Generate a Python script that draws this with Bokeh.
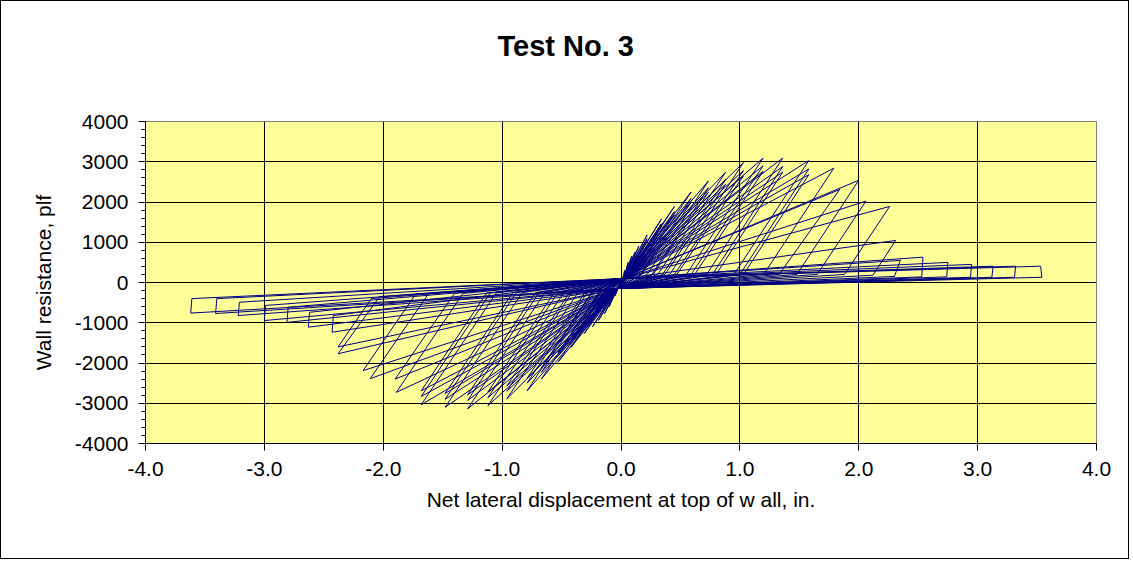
from bokeh.plotting import figure
from bokeh.models import FixedTicker, NumeralTickFormatter, LinearAxis
from bokeh.embed import file_html
from bokeh.resources import INLINE

# ---------------- axis ticks ----------------
x_ticks = [-4.0, -3.0, -2.0, -1.0, 0.0, 1.0, 2.0, 3.0, 4.0]
y_ticks = [-4000, -3000, -2000, -1000, 0, 1000, 2000, 3000, 4000]
y_minor_ticks = [-4000, -3800, -3600, -3400, -3200, -3000, -2800, -2600, -2400, -2200,
                 -2000, -1800, -1600, -1400, -1200, -1000, -800, -600, -400, -200,
                 0, 200, 400, 600, 800, 1000, 1200, 1400, 1600, 1800, 2000, 2200,
                 2400, 2600, 2800, 3000, 3200, 3400, 3600, 3800, 4000]

# ---------------- data ----------------
# pinched "throat" of the loops near the origin (positive side, negative side)
throat_disp = [0.03, -0.03]
throat_load = [100, -150]

# positive excursion of each cycle: peak, then the point where unloading reaches the pinched baseline
pos_peak_disp = [0.03, 0.06, 0.09, 0.12, 0.15,
                 0.22, 0.22, 0.22, 0.34, 0.34, 0.34, 0.45, 0.45, 0.45, 0.59, 0.59, 0.59,
                 0.735, 0.735, 0.735, 0.88, 0.88, 0.88, 1.03, 1.03, 1.03,
                 1.195, 1.195, 1.195, 1.36, 1.36, 1.36, 1.58, 1.58, 1.58,
                 1.79, 1.84, 2.00, 2.06, 2.26, 2.31, 2.35,
                 2.54, 2.75, 2.95, 3.13, 3.32, 3.53]
pos_peak_load = [300, 500, 650, 760, 900,
                 1180, 1090, 1030, 1575, 1460, 1390, 1890, 1760, 1680, 2250, 2090, 1990,
                 2520, 2350, 2240, 2740, 2560, 2440, 2980, 2780, 2650,
                 3090, 2900, 2760, 3090, 2880, 2740, 3030, 2820, 2680,
                 2840, 2310, 2540, 2020, 1890, 1045, 550,
                 630, 500, 450, 405, 405, 405]
pos_ret_disp = [0.01, 0.02, 0.02, 0.02, 0.03,
                0.03, 0.04, 0.05, 0.04, 0.06, 0.07, 0.07, 0.09, 0.10, 0.13, 0.16, 0.17,
                0.22, 0.26, 0.27, 0.31, 0.35, 0.37, 0.41, 0.45, 0.47,
                0.55, 0.59, 0.62, 0.72, 0.77, 0.80, 0.95, 1.00, 1.03,
                1.20, 1.33, 1.48, 1.65, 1.88, 2.12, 2.30,
                2.53, 2.74, 2.94, 3.12, 3.31, 3.54]
pos_ret_load = [60, 80, 100, 120, 130,
                150, 150, 150, 170, 170, 170, 180, 180, 180, 190, 190, 190,
                200, 200, 200, 200, 200, 200, 200, 200, 200,
                200, 200, 200, 200, 200, 200, 200, 200, 200,
                200, 200, 200, 200, 200, 180, 150,
                140, 140, 130, 130, 130, 130]

# negative excursion of each cycle
neg_peak_disp = [-0.05, -0.10, -0.14, -0.19, -0.24,
                 -0.31, -0.31, -0.31, -0.42, -0.42, -0.42, -0.53, -0.53, -0.53,
                 -0.67, -0.67, -0.67, -0.79, -0.79, -0.79, -0.96, -0.96, -0.96,
                 -1.12, -1.12, -1.12, -1.29, -1.29, -1.29, -1.48, -1.48, -1.48,
                 -1.68, -1.68, -1.68,
                 -1.89, -1.90, -2.11, -2.17, -2.38, -2.38,
                 -2.43, -2.63, -2.81, -3.00, -3.22, -3.41, -3.62]
neg_peak_load = [-330, -600, -780, -945, -1100,
                 -1270, -1180, -1120, -1610, -1490, -1420, -1980, -1830, -1740,
                 -2400, -2230, -2120, -2690, -2500, -2380, -2890, -2700, -2570,
                 -3060, -2860, -2720, -3140, -2930, -2790, -3100, -2900, -2760,
                 -3035, -2830, -2690,
                 -2730, -2400, -2390, -2190, -1770, -1600,
                 -1235, -1110, -990, -945, -820, -770, -760]
neg_ret_disp = [-0.01, -0.02, -0.02, -0.03, -0.04,
                -0.06, -0.07, -0.08, -0.10, -0.12, -0.13, -0.13, -0.16, -0.17,
                -0.18, -0.22, -0.24, -0.24, -0.28, -0.30, -0.36, -0.41, -0.43,
                -0.48, -0.53, -0.56, -0.64, -0.69, -0.72, -0.83, -0.88, -0.91,
                -1.05, -1.10, -1.13,
                -1.33, -1.40, -1.62, -1.73, -2.03, -2.10,
                -2.42, -2.62, -2.80, -2.99, -3.21, -3.40, -3.61]
neg_ret_load = [-60, -80, -100, -120, -140,
                -150, -150, -150, -180, -180, -180, -200, -200, -200,
                -220, -220, -220, -230, -230, -230, -240, -240, -240,
                -250, -250, -250, -250, -250, -250, -250, -250, -250,
                -260, -260, -260,
                -270, -270, -280, -300, -350, -400,
                -820, -740, -615, -570, -490, -400, -400]

# ---------------- build the continuous load-displacement trace ----------------
disp = [0.0]
load = [0.0]
for i in range(len(pos_peak_disp)):
    disp += [throat_disp[0], pos_peak_disp[i], pos_ret_disp[i],
             throat_disp[1], neg_peak_disp[i], neg_ret_disp[i]]
    load += [throat_load[0], pos_peak_load[i], pos_ret_load[i],
             throat_load[1], neg_peak_load[i], neg_ret_load[i]]
disp.append(throat_disp[0])
load.append(throat_load[0])

FONT = "Liberation Sans"

p = figure(frame_width=951, frame_height=322,
           min_border_left=144, min_border_right=32, min_border_top=120, min_border_bottom=115,
           x_range=(-4, 4), y_range=(-4000, 4000),
           output_backend="svg", toolbar_location=None,
           background_fill_color="#FFFF99", border_fill_color="white")
p.styles = {"border": "1px solid #000000"}
p.outline_line_color = "#808080"
p.outline_line_width = 1

p.line(disp, load, line_color="#000080", line_width=1)

xaxis = p.below[0]
yaxis = p.left[0]

# invisible spacer axis above the frame (one hidden tick, no drawn label), so the title sits high
spacer = LinearAxis(ticker=FixedTicker(ticks=[0.0]), axis_line_color=None,
                    major_tick_line_color=None, minor_tick_line_color=None,
                    major_tick_in=0, major_tick_out=55, minor_tick_out=0,
                    major_label_text_color=None, major_label_standoff=0)
p.add_layout(spacer, "above")

p.title.text = "Test No. 3"
p.title.text_font = FONT
p.title.text_font_size = "29px"
p.title.text_font_style = "bold"
p.title.text_color = "#000000"
p.title.align = "left"
p.title.offset = 352

# axes
xaxis.ticker = FixedTicker(ticks=x_ticks)
xaxis.formatter = NumeralTickFormatter(format="0.0")
yaxis.ticker = FixedTicker(ticks=y_ticks, minor_ticks=y_minor_ticks)
yaxis.formatter = NumeralTickFormatter(format="0")
for ax in (xaxis, yaxis):
    ax.axis_line_color = "#000000"
    ax.major_tick_line_color = "#000000"
    ax.major_tick_in = 0
    ax.major_tick_out = 7
    ax.major_label_text_font = FONT
    ax.major_label_text_font_size = "21px"
    ax.major_label_text_color = "#000000"
    ax.axis_label_text_font = FONT
    ax.axis_label_text_font_size = "21px"
    ax.axis_label_text_font_style = "normal"
    ax.axis_label_text_color = "#000000"
xaxis.minor_tick_line_color = None
yaxis.minor_tick_line_color = "#000000"
yaxis.minor_tick_in = 0
yaxis.minor_tick_out = 4
xaxis.major_label_standoff = 11
yaxis.major_label_standoff = 10
xaxis.axis_label = "Net lateral displacement at top of w all, in."
yaxis.axis_label = "Wall resistance, plf"
xaxis.axis_label_standoff = 9
yaxis.axis_label_standoff = 17

p.xgrid[0].ticker = xaxis.ticker
p.ygrid[0].ticker = yaxis.ticker
p.xgrid.grid_line_color = "#000000"
p.ygrid.grid_line_color = "#000000"
p.xgrid.grid_line_width = 1
p.ygrid.grid_line_width = 1

open("out.html", "w").write(file_html(p, INLINE))
